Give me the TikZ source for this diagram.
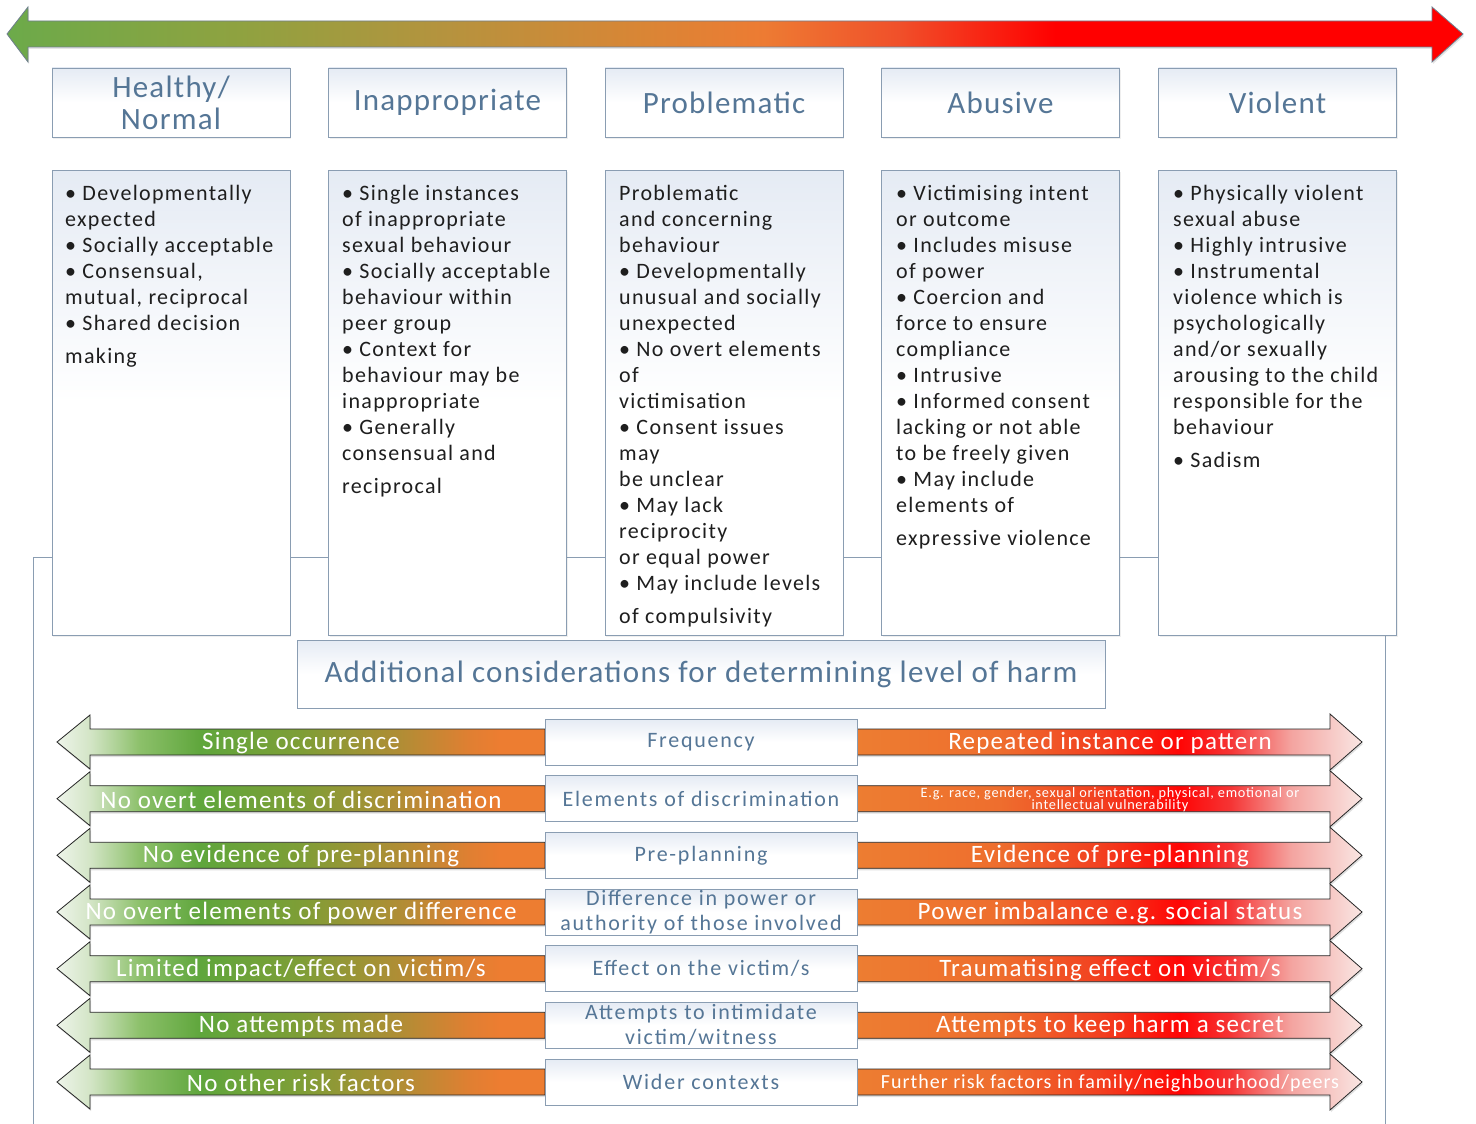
\documentclass[tikz,border=0pt]{standalone}
\usepackage{fontspec}
\setmainfont{Carlito}
\newfontfamily\colfont[LetterSpace=6]{Carlito}
\newfontfamily\hdfont[LetterSpace=4]{Carlito}
\newfontfamily\arrfont[LetterSpace=5]{Carlito}
\newfontfamily\midfont[LetterSpace=8]{Carlito}
\usetikzlibrary{shadows}

\definecolor{hdrtxt}{HTML}{557696}
\definecolor{boxline}{HTML}{8A9DB2}
\definecolor{boxtop}{HTML}{E5EBF4}
\definecolor{coltxt}{HTML}{1E1E1E}
% top bar
\definecolor{tg}{HTML}{6CAA4A}
\definecolor{tgb}{HTML}{8FA240}
\definecolor{tochre}{HTML}{B5933E}
\definecolor{torA}{HTML}{DA8535}
\definecolor{tor}{HTML}{ED7B33}
\definecolor{torB}{HTML}{F0502A}
\definecolor{tred}{HTML}{FF0000}
% left arrows
\definecolor{lA}{HTML}{EEF4EA}
\definecolor{lB}{HTML}{D3E5C6}
\definecolor{lC}{HTML}{8CC06A}
\definecolor{lD}{HTML}{5FA63C}
\definecolor{lE}{HTML}{7E9E36}
\definecolor{lF}{HTML}{B08D35}
\definecolor{lG}{HTML}{E07F32}
\definecolor{lH}{HTML}{ED7D31}
% right arrows
\definecolor{rA}{HTML}{ED7D31}
\definecolor{rB}{HTML}{EE6E2E}
\definecolor{rC}{HTML}{F24020}
\definecolor{rD}{HTML}{FF0505}
\definecolor{rE}{HTML}{F53535}
\definecolor{rF}{HTML}{F4A4A0}
\definecolor{rG}{HTML}{F9E6E3}

\pgfdeclarehorizontalshading{topbar}{100bp}{color(0bp)=(tg); color(25bp)=(tg); color(33bp)=(tgb); color(40bp)=(tochre); color(47bp)=(torA); color(51bp)=(tor); color(55.6bp)=(torB); color(61bp)=(tred); color(100bp)=(tred)}
\pgfdeclarehorizontalshading{leftshade}{100bp}{color(0bp)=(lA); color(25bp)=(lA); color(28.4bp)=(lB); color(33.5bp)=(lC); color(39.7bp)=(lD); color(49.9bp)=(lE); color(60.1bp)=(lF); color(67.3bp)=(lG); color(70.4bp)=(lH); color(100bp)=(lH)}
\pgfdeclarehorizontalshading{rightshade}{100bp}{color(0bp)=(rA); color(25bp)=(rA); color(39bp)=(rB); color(49bp)=(rC); color(57bp)=(rD); color(62bp)=(rE); color(68bp)=(rF); color(75bp)=(rG); color(100bp)=(rG)}
\pgfdeclareverticalshading{boxshade}{100bp}{color(0bp)=(white); color(25bp)=(white); color(50bp)=(white); color(75bp)=(boxtop); color(100bp)=(boxtop)}

\tikzset{
  hdr/.style={draw=boxline, line width=0.9pt, shading=boxshade, minimum width=238pt, minimum height=69pt, inner sep=0pt, text=hdrtxt, font=\hdfont\fontsize{31}{33}\selectfont, align=center, drop shadow={opacity=0.12, shadow xshift=1pt, shadow yshift=-2pt}},
  colbox/.style={draw=boxline, line width=0.9pt, shading=boxshade, minimum width=238pt, minimum height=465pt, inner sep=0pt, drop shadow={opacity=0.12, shadow xshift=1pt, shadow yshift=-2pt}},
  coltext/.style={anchor=north west, inner sep=0pt, align=left, text=coltxt, font=\colfont\fontsize{22}{26}\selectfont},
  addbox/.style={draw=boxline, line width=0.9pt, shading=boxshade, minimum width=808pt, minimum height=68pt, inner sep=0pt, text=hdrtxt, font=\hdfont\fontsize{31}{33}\selectfont},
  midbox/.style={draw=boxline, line width=0.9pt, shading=boxshade, minimum width=312pt, minimum height=46pt, inner sep=0pt, text=hdrtxt, font=\midfont\fontsize{22}{25}\selectfont, align=center},
  larrow/.style={draw=black!85, line width=0.8pt, shading=leftshade, drop shadow={opacity=0.25, shadow xshift=1pt, shadow yshift=-2pt}},
  rarrow/.style={draw=black!85, line width=0.8pt, shading=rightshade, drop shadow={opacity=0.25, shadow xshift=1pt, shadow yshift=-2pt}},
  arrtext/.style={inner sep=0pt, text=white, font=\arrfont\fontsize{25}{27}\selectfont},
  framel/.style={draw=boxline, line width=0.9pt},
}

\newcommand\harmrow[5]{%
  \draw[larrow] (57,#1) -- (90,#1-27) -- (90,#1-13) -- (545,#1-13) -- (545,#1+13) -- (90,#1+13) -- (90,#1+27) -- cycle;
  \draw[rarrow] (857,#1-13) -- (1330,#1-13) -- (1330,#1-28) -- (1362,#1) -- (1330,#1+28) -- (1330,#1+13) -- (857,#1+13) -- cycle;
  \node[arrtext] (lt#2) at (301,#1+1) {#3};
  \node[midbox] (mb#2) at (701,#1) {#4};
  \node[arrtext] (rt#2) at (1110,#1+1) {#5};
}

\begin{document}
\begin{tikzpicture}[x=1pt,y=-1pt]
\useasboundingbox (0,0) rectangle (1476,1124);
\fill[white] (0,0) rectangle (1476,1124);

% big frame behind
\draw[framel] (33,1140) -- (33,557) -- (1385,557) -- (1385,1140);

% top scale arrow
\draw[draw=boxline!80!black, line width=0.8pt, shading=topbar, drop shadow={opacity=0.2, shadow xshift=1pt, shadow yshift=-2pt}]
  (7,34) -- (28,7) -- (28,21) -- (1432,21) -- (1432,7) -- (1463,34) -- (1432,62) -- (1432,47) -- (28,47) -- (28,62) -- cycle;

% headers
\node[hdr] (h1) at (171,102.5) {Healthy/\\[-1pt]Normal};
\node[hdr] (h2) at (447.5,102.5) {Inappropriate};
\node[hdr] (h3) at (724,102.5) {Problematic};
\node[hdr] (h4) at (1000.5,102.5) {Abusive};
\node[hdr] (h5) at (1277.5,102.5) {Violent};

% column boxes
\node[colbox] (c1) at (171,402.5) {};
\node[colbox] (c2) at (447.5,402.5) {};
\node[colbox] (c3) at (724,402.5) {};
\node[colbox] (c4) at (1000.5,402.5) {};
\node[colbox] (c5) at (1277.5,402.5) {};

\node[coltext] (t1) at (65,185.5) {• Developmentally\\expected\\• Socially acceptable\\• Consensual,\\mutual, reciprocal\\• Shared decision\\[7pt]making};
\node[coltext] (t2) at (342,185.5) {• Single instances\\of inappropriate\\sexual behaviour\\• Socially acceptable\\behaviour within\\peer group\\• Context for\\behaviour may be\\inappropriate\\• Generally\\consensual and\\[7pt]reciprocal};
\node[coltext] (t3) at (619,185.5) {Problematic\\and concerning\\behaviour\\• Developmentally\\unusual and socially\\unexpected\\• No overt elements\\of\\victimisation\\• Consent issues\\may\\be unclear\\• May lack\\reciprocity\\or equal power\\• May include levels\\[7pt]of compulsivity};
\node[coltext] (t4) at (896,185.5) {• Victimising intent\\or outcome\\• Includes misuse\\of power\\• Coercion and\\force to ensure\\compliance\\• Intrusive\\• Informed consent\\lacking or not able\\to be freely given\\• May include\\elements of\\[7pt]expressive violence};
\node[coltext] (t5) at (1173,185.5) {• Physically violent\\sexual abuse\\• Highly intrusive\\• Instrumental\\violence which is\\psychologically\\and/or sexually\\arousing to the child\\responsible for the\\behaviour\\[7pt]• Sadism};

% additional considerations
\node[addbox] (add) at (701,674) {Additional considerations for determining level of harm};

\harmrow{742}{1}{Single occurrence}{Frequency}{Repeated instance or pattern}
\harmrow{798.7}{2}{No overt elements of discrimination}{Elements of discrimination}{\fontsize{14.3}{8}\selectfont\begin{tabular}{@{}c@{}}E.g. race, gender, sexual orientation, physical, emotional or\\intellectual vulnerability\end{tabular}}
\harmrow{855.3}{3}{No evidence of pre-planning}{Pre-planning}{Evidence of pre-planning}
\harmrow{912}{4}{No overt elements of power difference}{Difference in power or\\authority of those involved}{Power imbalance e.g. social status}
\harmrow{968.7}{5}{Limited impact/effect on victim/s}{Effect on the victim/s}{Traumatising effect on victim/s}
\harmrow{1025.3}{6}{No attempts made}{Attempts to intimidate\\victim/witness}{Attempts to keep harm a secret}
\harmrow{1082}{7}{No other risk factors}{Wider contexts}{\fontsize{20}{22}\selectfont Further risk factors in family/neighbourhood/peers}

\end{tikzpicture}
\end{document}
